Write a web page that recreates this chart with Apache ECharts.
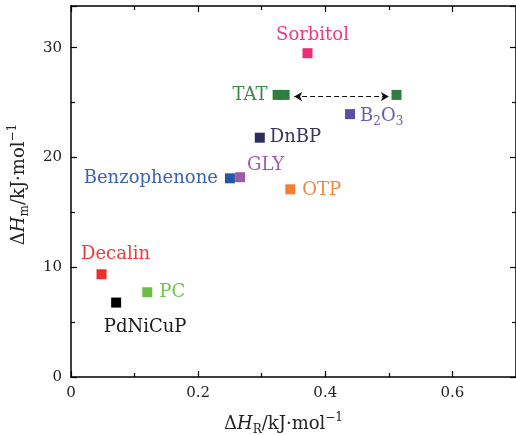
<!DOCTYPE html>
<html>
<head>
<meta charset="utf-8">
<script src="https://cdn.jsdelivr.net/npm/echarts@6/dist/echarts.min.js"></script>
<style>
html,body{margin:0;padding:0;background:#fff;}
#chart{width:516px;height:435px;}
</style>
</head>
<body>
<div id="chart"></div>
<script>
// ---- data ----
const names = ['Sorbitol', 'TAT', 'B2O3', 'DnBP', 'Benzophenone', 'GLY', 'OTP', 'Decalin', 'PC', 'PdNiCuP'];
const dHR = [0.372, 0.325, 0.439, 0.297, 0.250, 0.266, 0.345, 0.048, 0.120, 0.071];
const dHm = [29.5, 25.7, 23.95, 21.8, 18.1, 18.2, 17.1, 9.36, 7.72, 6.78];
const tatExtraR = [0.336, 0.512];
const tatExtraM = [25.7, 25.7];
const arrowR = [0.351, 0.500];
const arrowM = [25.55, 25.55];
const xTicks = [0, 0.2, 0.4, 0.6];
const yTicks = [0, 10, 20, 30];

// ---- style ----
const SERIF = '"DejaVu Serif", "Liberation Serif", serif';
const colors = {
  Sorbitol: '#ee2a7b', TAT: '#2f7d3f', B2O3: '#5b4ea3', DnBP: '#2c2c5e',
  Benzophenone: '#2357a6', GLY: '#a258a8', OTP: '#f47f33', Decalin: '#ef2d2d',
  PC: '#6bbd45', PdNiCuP: '#000000'
};
const textColors = {
  Sorbitol: '#ee3a85', TAT: '#3b8a4b', B2O3: '#6a5eb0', DnBP: '#35355f',
  Benzophenone: '#3a63ad', GLY: '#a45aa9', OTP: '#f3873d', Decalin: '#f03a3a',
  PC: '#72c24c', PdNiCuP: '#1a1a1a'
};
const labelCfg = {
  Sorbitol: {position: 'top', distance: 4, offset: [5, 0]},
  TAT: {position: 'left', distance: 5, offset: [0, 0]},
  B2O3: {position: 'right', distance: 5, offset: [0, 2]},
  DnBP: {position: 'right', distance: 5, offset: [0, 0]},
  Benzophenone: {position: 'left', distance: 7, offset: [0, 0]},
  GLY: {position: 'right', distance: 2, offset: [0, -12]},
  OTP: {position: 'right', distance: 7, offset: [0, 1]},
  Decalin: {position: 'top', distance: 6, offset: [14, 0]},
  PC: {position: 'right', distance: 7, offset: [0, 0]},
  PdNiCuP: {position: 'bottom', distance: 11, offset: [29, 0]}
};
const labelText = {B2O3: '{a|B}{s|2}{a|O}{s|3}'};
const LFS = 18;

const series = names.map((n, i) => {
  const c = labelCfg[n];
  return {
    name: n,
    type: 'scatter',
    symbol: 'rect',
    symbolSize: 10,
    itemStyle: {color: colors[n], opacity: 1},
    data: [[dHR[i], dHm[i]]],
    z: 3,
    label: {
      show: true,
      position: c.position,
      distance: c.distance,
      offset: c.offset,
      fontFamily: SERIF,
      fontSize: LFS,
      color: textColors[n],
      formatter: labelText[n] || n,
      rich: {
        a: {fontFamily: SERIF, fontSize: LFS, lineHeight: 24, color: textColors[n]},
        s: {fontFamily: SERIF, fontSize: 12, lineHeight: 12, verticalAlign: 'bottom', color: textColors[n]}
      }
    }
  };
});

// extra TAT points and the arrow
series.push({
  name: 'TAT-extra',
  type: 'scatter',
  symbol: 'rect',
  symbolSize: 10,
  itemStyle: {color: colors.TAT, opacity: 1},
  data: tatExtraR.map((x, i) => [x, tatExtraM[i]]),
  z: 3,
  markLine: {
    silent: true,
    symbol: ['arrow', 'arrow'],
    symbolSize: [7, 8],
    label: {show: false},
    lineStyle: {color: '#111', type: [5, 3], width: 1.1},
    data: [[{coord: [arrowR[0], arrowM[0]]}, {coord: [arrowR[1], arrowM[1]]}]]
  }
});

const axisLineStyle = {color: '#000', width: 1.5};
function xAxisDef(pos, showLabels) {
  return {
    type: 'value', position: pos, min: 0, max: 0.7, interval: 0.2,
    axisLine: {show: true, onZero: false, lineStyle: axisLineStyle},
    axisTick: {show: true, inside: true, length: 6, lineStyle: {color: '#000', width: 1.2}},
    minorTick: {show: true, splitNumber: 2, length: 4, lineStyle: {color: '#000', width: 1.2}},
    splitLine: {show: false},
    axisLabel: {
      show: showLabels, showMaxLabel: false, margin: 9,
      fontFamily: SERIF, fontSize: 15, color: '#222',
      formatter: v => xTicks.indexOf(Math.round(v * 10) / 10) >= 0 ? (v === 0 ? '0' : v.toFixed(1)) : ''
    }
  };
}
function yAxisDef(pos, showLabels) {
  return {
    type: 'value', position: pos, min: 0, max: 33.8, interval: 10,
    axisLine: {show: true, onZero: false, lineStyle: axisLineStyle},
    axisTick: {show: true, inside: true, length: 6, lineStyle: {color: '#000', width: 1.2}},
    minorTick: {show: true, splitNumber: 2, length: 4, lineStyle: {color: '#000', width: 1.2}},
    splitLine: {show: false},
    axisLabel: {
      show: showLabels, showMaxLabel: false, margin: 9,
      fontFamily: SERIF, fontSize: 15, color: '#222',
      formatter: v => yTicks.indexOf(Math.round(v)) >= 0 && Math.abs(v - Math.round(v)) < 1e-6 ? String(Math.round(v)) : ''
    }
  };
}

const nameRich = {
  a: {fontFamily: SERIF, fontSize: 18, lineHeight: 24, color: '#222'},
  i: {fontFamily: SERIF, fontSize: 18, lineHeight: 24, fontStyle: 'italic', color: '#222'},
  s: {fontFamily: SERIF, fontSize: 12, lineHeight: 12, verticalAlign: 'bottom', color: '#222'},
  p: {fontFamily: SERIF, fontSize: 12, lineHeight: 12, verticalAlign: 'top', color: '#222'}
};

const xBottom = xAxisDef('bottom', true);
xBottom.name = '{a|Δ}{i|H}{s|R}{a|/kJ·mol}{p|−1}';
xBottom.nameLocation = 'middle';
xBottom.nameGap = 35;
xBottom.nameTextStyle = {rich: nameRich, padding: [0, 20, 0, 0]};
const yLeft = yAxisDef('left', true);
yLeft.name = '{a|Δ}{i|H}{s|m}{a|/kJ·mol}{p|−1}';
yLeft.nameLocation = 'middle';
yLeft.nameGap = 40;
yLeft.nameRotate = 90;
yLeft.nameTextStyle = {rich: nameRich, padding: [0, 0, 0, 14]};

const option = {
  animation: false,
  backgroundColor: '#fff',
  grid: {left: 71, right: 0, top: 6, bottom: 58, containLabel: false, outerBoundsMode: 'none'},
  xAxis: [xBottom, xAxisDef('top', false)],
  yAxis: [yLeft, yAxisDef('right', false)],
  series: series
};

const chart = echarts.init(document.getElementById('chart'), null, {renderer: 'canvas'});
chart.setOption(option);
</script>
</body>
</html>
